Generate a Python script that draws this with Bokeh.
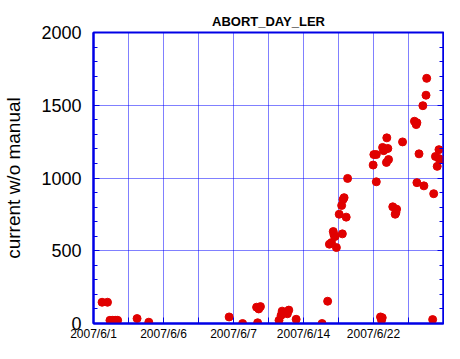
from bokeh.plotting import figure
from bokeh.models import Range1d, LinearAxis, FixedTicker, SingleIntervalTicker
from bokeh.embed import file_html
from bokeh.resources import INLINE

# x positions are sequential record index (0..10 span), tick labels are dates
tick_positions = [0, 1, 2, 3, 4, 5, 6, 7, 8, 9, 10]
tick_labels = ["2007/6/1", "", "2007/6/6", "", "2007/6/7", "", "2007/6/14", "", "2007/6/22", "", ""]

x_vals = [0.245, 0.40, 0.47, 0.55, 0.62, 0.69, 1.245, 1.58,
          3.875, 4.26, 4.66, 4.77, 4.72, 4.69,
          5.30, 5.36, 5.39, 5.54, 5.58, 5.79,
          6.53, 6.69,
          6.74, 6.80, 6.85, 6.87, 6.90, 6.94, 7.02, 7.09, 7.11, 7.13, 7.16, 7.22, 7.26,
          7.99, 8.01, 8.08, 8.08, 8.20, 8.23, 8.25,
          8.26, 8.29, 8.34, 8.41, 8.37, 8.43, 8.38,
          8.55, 8.62, 8.64, 8.66, 8.83,
          9.17, 9.22, 9.24, 9.24, 9.30, 9.41, 9.44, 9.50, 9.52, 9.69, 9.72,
          9.77, 9.82, 9.87, 9.87, 9.93]
y_vals = [146, 146, 22, 22, 22, 22, 34, 9,
          45, 0, 112, 116, 100, 5,
          22, 56, 85, 67, 92, 29,
          0, 153,
          545, 556, 632, 610, 598, 522, 751, 811, 616, 852, 865, 731, 997,
          1089, 1161, 1161, 974, 45, 22, 40,
          1210, 1188, 1199, 1203, 1107, 1127, 1276,
          802, 751, 762, 786, 1248,
          1390, 1367, 1380, 968, 1166, 1497, 946, 1569, 1685, 27, 892,
          1148, 1080, 1195, 1134, 1126]

BLUE = "#0000E6"
GRID_BLUE = "#0000FF"
RED = "#E00000"

p = figure(width=444, height=343, output_backend="svg", toolbar_location=None,
           x_range=Range1d(0, 10), y_range=Range1d(0, 2000),
           min_border_left=88, min_border_right=1, min_border_top=32, min_border_bottom=0,
           title="ABORT_DAY_LER")

p.title.align = "center"
p.title.vertical_align = "top"
p.title.text_font = "Liberation Sans"
p.title.text_font_style = "bold"
p.title.text_font_size = "13px"
p.title.text_color = "black"
p.title.standoff = 4

p.outline_line_color = BLUE
p.outline_line_width = 2
p.outline_line_alpha = 1
p.background_fill_color = "white"
p.border_fill_color = "white"

# x axis
xax = p.xaxis[0]
xax.axis_label = None
xax.ticker = FixedTicker(ticks=tick_positions, minor_ticks=[])
xax.major_label_overrides = {t: l for t, l in zip(tick_positions, tick_labels)}
xax.axis_line_color = BLUE
xax.axis_line_width = 2
xax.major_tick_line_color = BLUE
xax.major_tick_in = 6
xax.major_tick_out = 0
xax.minor_tick_line_color = None
xax.major_label_standoff = 3
xax.major_label_text_font = "Liberation Sans"
xax.major_label_text_font_size = "12px"
xax.major_label_text_color = "black"

# y axis
yax = p.yaxis[0]
yax.ticker = SingleIntervalTicker(interval=500, num_minor_ticks=5)
yax.axis_line_color = BLUE
yax.axis_line_width = 2
yax.major_tick_line_color = BLUE
yax.major_tick_in = 6
yax.major_tick_out = 0
yax.minor_tick_line_color = BLUE
yax.minor_tick_in = 4
yax.minor_tick_out = 0
yax.major_label_standoff = 12
yax.major_label_text_font = "Liberation Sans"
yax.major_label_text_font_size = "18px"
yax.major_label_text_color = "black"
yax.axis_label = "current w/o manual"
yax.axis_label_text_font = "Liberation Sans"
yax.axis_label_text_font_size = "19px"
yax.axis_label_text_font_style = "normal"
yax.axis_label_text_color = "black"
yax.axis_label_standoff = 14

# right axis with inward ticks only (no labels), pinned at the right edge
rax = LinearAxis(ticker=SingleIntervalTicker(interval=500, num_minor_ticks=5),
                 axis_label=None, fixed_location=10)
rax.axis_line_color = BLUE
rax.axis_line_width = 2
rax.major_tick_line_color = BLUE
rax.major_tick_in = 6
rax.major_tick_out = 0
rax.minor_tick_line_color = BLUE
rax.minor_tick_in = 4
rax.minor_tick_out = 0
rax.major_label_text_font_size = "1px"
rax.major_label_text_color = None
rax.major_label_standoff = 0
p.add_layout(rax, "right")

# grids
p.xgrid.ticker = FixedTicker(ticks=tick_positions, minor_ticks=[])
p.xgrid.grid_line_color = GRID_BLUE
p.xgrid.grid_line_dash = "1 1"
p.xgrid.grid_line_width = 1
p.ygrid.ticker = SingleIntervalTicker(interval=500)
p.ygrid.grid_line_color = GRID_BLUE
p.ygrid.grid_line_dash = "1 1"
p.ygrid.grid_line_width = 1

p.scatter(x_vals, y_vals, size=8, fill_color=RED, line_color=RED)

open("out.html", "w").write(file_html(p, INLINE))
